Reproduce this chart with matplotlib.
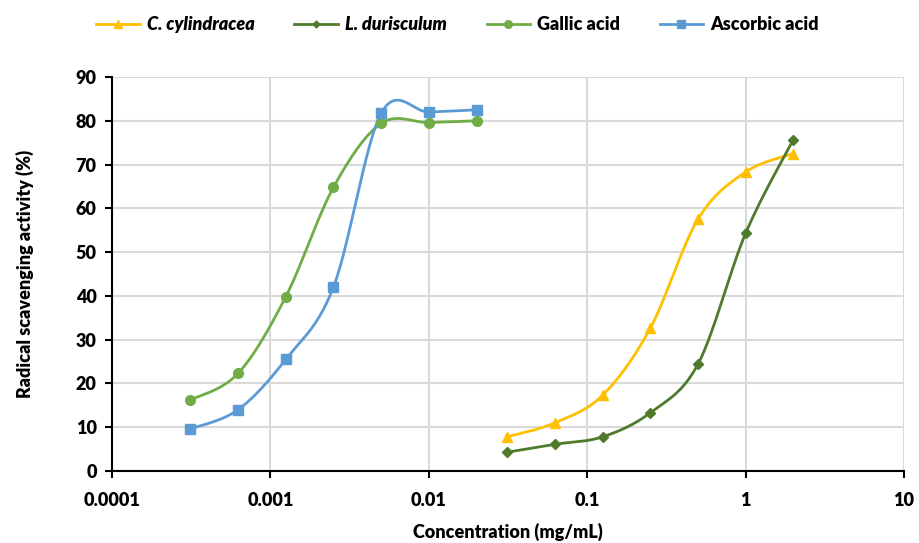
import numpy as np
from matplotlib import pyplot as plt

# concentrations (mg/mL)
conc_std = [0.0003125, 0.000625, 0.00125, 0.0025, 0.005, 0.01, 0.02]
conc_ext = [0.03125, 0.0625, 0.125, 0.25, 0.5, 1, 2]

# radical scavenging activity (%)
c_cylindracea = [7.8, 11.0, 17.3, 32.6, 57.5, 68.3, 72.5]
l_durisculum = [4.3, 6.1, 7.8, 13.3, 24.4, 54.3, 75.7]
gallic_acid = [16.2, 22.3, 39.8, 64.8, 79.4, 79.6, 80.0]
ascorbic_acid = [9.6, 14.0, 25.5, 42.0, 81.7, 82.0, 82.5]

x_ticks = [0.0001, 0.001, 0.01, 0.1, 1, 10]
x_ticklabels = ["0.0001", "0.001", "0.01", "0.1", "1", "10"]

FONT = "Lato"


def smooth(xs, ys, n=30):
    """Excel-like smoothed line: cubic bezier through points (log-x space)."""
    lx = np.log10(xs)
    y = np.asarray(ys, float)
    pts = np.column_stack([lx, y])
    out = []
    m = len(pts)
    for i in range(m - 1):
        p0 = pts[i - 1] if i > 0 else pts[i]
        p1 = pts[i]
        p2 = pts[i + 1]
        p3 = pts[i + 2] if i + 2 < m else pts[i + 1]
        c1 = p1 + (p2 - p0) / 6.0
        c2 = p2 - (p3 - p1) / 6.0
        t = np.linspace(0, 1, n)[:, None]
        seg = ((1 - t) ** 3) * p1 + 3 * ((1 - t) ** 2) * t * c1 + 3 * (1 - t) * t ** 2 * c2 + t ** 3 * p2
        out.append(seg if i == 0 else seg[1:])
    seg = np.vstack(out)
    return 10 ** seg[:, 0], seg[:, 1]


fig = plt.figure(figsize=(9.19, 5.43), dpi=100)
ax = fig.add_axes([0.1219, 0.1326, 0.8618, 0.7256])

series = [
    (conc_ext, c_cylindracea, "#FFC000", "^", 7, "C. cylindracea", "italic"),
    (conc_ext, l_durisculum, "#4F7A2C", "D", 5, "L. durisculum", "italic"),
    (conc_std, gallic_acid, "#70AD47", "o", 7, "Gallic acid", "normal"),
    (conc_std, ascorbic_acid, "#5B9BD5", "s", 7, "Ascorbic acid", "normal"),
]

handles = []
for xs, ys, col, mk, ms, lab, st in series:
    sx, sy = smooth(xs, ys)
    ax.plot(sx, sy, color=col, lw=2, zorder=3)
    ax.plot(xs, ys, ls="none", marker=mk, ms=ms, color=col, zorder=4)
    h, = ax.plot([], [], color=col, lw=2, marker=mk, ms=ms - 1.5, label=lab)
    handles.append(h)

ax.set_xscale("log")
ax.set_xlim(0.0001, 10)
ax.set_ylim(0, 90)
ax.set_xticks(x_ticks)
ax.set_xticklabels(x_ticklabels)
ax.minorticks_off()
ax.set_yticks(range(0, 91, 10))

ax.grid(True, color="#D9D9D9", lw=1.5)
ax.set_axisbelow(True)
for s in ["top", "right"]:
    ax.spines[s].set_visible(False)
for s in ["left", "bottom"]:
    ax.spines[s].set_color("black")
    ax.spines[s].set_linewidth(1.5)
ax.tick_params(axis="both", length=5, width=1.5, color="black", direction="out")
ax.tick_params(axis="x", pad=10)
ax.tick_params(axis="y", pad=6)
for lbl in ax.get_xticklabels() + ax.get_yticklabels():
    lbl.set_fontfamily(FONT)
    lbl.set_fontweight("heavy")
    lbl.set_fontsize(13)

ax.set_xlabel("Concentration (mg/mL)", fontfamily=FONT, fontweight="heavy", fontsize=13, labelpad=10)
ax.set_ylabel("Radical scavenging activity (%)", fontfamily=FONT, fontweight="heavy", fontsize=13, labelpad=30)

leg = fig.legend(handles=handles, loc="upper center", bbox_to_anchor=(0.498, 1.0), ncol=4,
                 frameon=False, handlelength=2.4, columnspacing=2.2, handletextpad=0.4,
                 prop={"family": FONT, "weight": "heavy", "size": 13})
for txt, (_, _, _, _, _, _, st) in zip(leg.get_texts(), series):
    txt.set_fontstyle(st)

fig.savefig("out.png", dpi=100)
